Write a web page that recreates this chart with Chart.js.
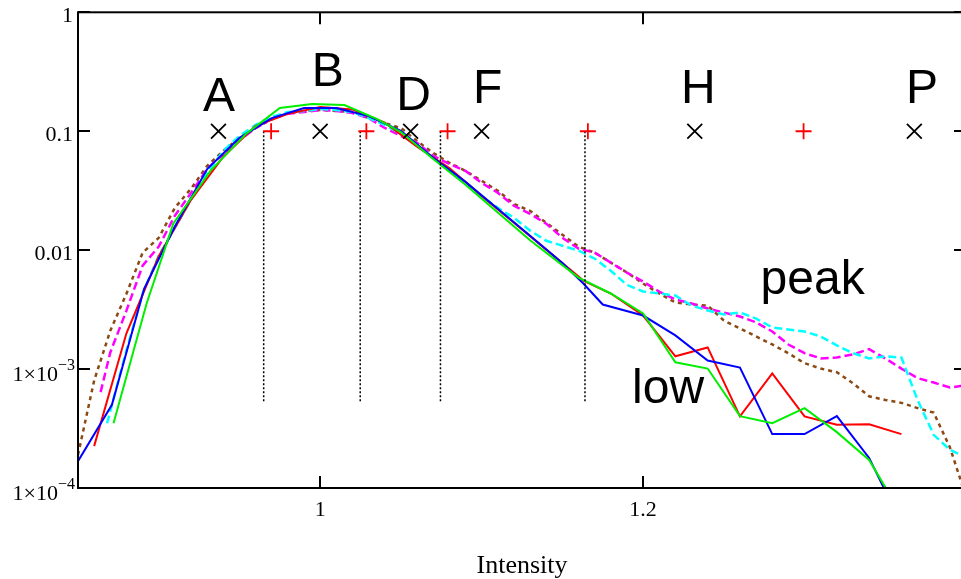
<!DOCTYPE html>
<html>
<head>
<meta charset="utf-8">
<script src="https://cdn.jsdelivr.net/npm/chart.js@4.4.1/dist/chart.umd.min.js"></script>
<style>
  html, body { margin: 0; padding: 0; background: #fff; overflow: hidden; }
  canvas { display: block; }
</style>
</head>
<body>
<canvas id="intensityChart" width="980" height="579"></canvas>
<script>
// peak curves (dashed), sampled every 0.01
const brownX = [0.85, 0.86, 0.87, 0.88, 0.89, 0.90, 0.91, 0.92, 0.93, 0.94, 0.95, 0.96, 0.97, 0.98, 0.99,
  1.00, 1.01, 1.02, 1.03, 1.04, 1.05, 1.06, 1.07, 1.08, 1.09, 1.10, 1.11, 1.12, 1.13, 1.14, 1.15, 1.16,
  1.17, 1.18, 1.19, 1.20, 1.21, 1.22, 1.23, 1.24, 1.25, 1.26, 1.27, 1.28, 1.29, 1.30, 1.31, 1.32, 1.33,
  1.34, 1.35, 1.36, 1.37, 1.38, 1.39, 1.40];
const brownY = [1.9e-4, 8.0e-4, 2.1e-3, 4.3e-3, 9.5e-3, 0.0127, 0.0227, 0.0329, 0.0512, 0.0683, 0.088, 0.1065, 0.126, 0.142, 0.148,
  0.151, 0.148, 0.145, 0.129, 0.117, 0.1065, 0.0828, 0.0657, 0.0542, 0.0464, 0.0383, 0.0316, 0.0245, 0.0214, 0.017, 0.0135, 0.0107,
  0.00953, 0.00786, 0.00648, 0.00524, 0.00432, 0.00363, 0.00349, 0.00342, 0.00256, 0.0022, 0.00188, 0.00161, 0.00136, 0.00112, 0.00101, 0.00094, 0.00076,
  0.00059, 0.00055, 0.00052, 0.00047, 0.00043, 0.00022, 0.000085];

const magentaX = [0.864, 0.87, 0.88, 0.89, 0.90, 0.91, 0.92, 0.93, 0.94, 0.95, 0.96, 0.97, 0.98, 0.99,
  1.00, 1.01, 1.02, 1.03, 1.04, 1.05, 1.06, 1.07, 1.08, 1.09, 1.10, 1.11, 1.12, 1.13, 1.14, 1.15, 1.16,
  1.17, 1.18, 1.19, 1.20, 1.21, 1.22, 1.23, 1.24, 1.25, 1.26, 1.27, 1.28, 1.29, 1.30, 1.31, 1.32, 1.33,
  1.34, 1.35, 1.36, 1.37, 1.38, 1.39, 1.40];
const magentaY = [6.4e-4, 1.38e-3, 3.1e-3, 7.4e-3, 0.0107, 0.0195, 0.0303, 0.0482, 0.0645, 0.0845, 0.106, 0.127, 0.140, 0.145,
  0.151, 0.148, 0.142, 0.129, 0.1065, 0.0912, 0.0797, 0.062, 0.0531, 0.0464, 0.0368, 0.0304, 0.0236, 0.0202, 0.0167, 0.0127, 0.0103,
  0.00953, 0.00786, 0.00648, 0.00544, 0.00449, 0.00385, 0.00356, 0.00323, 0.00299, 0.00277, 0.00247, 0.00207, 0.00161, 0.00136, 0.00123, 0.00125, 0.00133,
  0.00147, 0.00123, 0.00101, 0.00084, 0.00077, 0.0007, 0.00073];

const cyanX = [0.868, 0.88, 0.89, 0.90, 0.91, 0.92, 0.93, 0.94, 0.95, 0.96, 0.97, 0.98, 0.99,
  1.00, 1.01, 1.02, 1.03, 1.04, 1.05, 1.06, 1.07, 1.08, 1.09, 1.10, 1.11, 1.12, 1.13, 1.14, 1.15, 1.16,
  1.17, 1.18, 1.19, 1.20, 1.21, 1.22, 1.23, 1.24, 1.25, 1.26, 1.27, 1.28, 1.29, 1.30, 1.31, 1.32, 1.33,
  1.34, 1.35, 1.36, 1.37, 1.38, 1.39, 1.40];
const cyanY = [3.5e-4, 1.44e-3, 4.3e-3, 9.0e-3, 0.0154, 0.0265, 0.0447, 0.0683, 0.0912, 0.113, 0.132, 0.145, 0.148,
  0.154, 0.151, 0.145, 0.129, 0.113, 0.0948, 0.0752, 0.0597, 0.0464, 0.0361, 0.0281, 0.0227, 0.0187, 0.0146, 0.012, 0.0109, 0.0099,
  0.0085, 0.0067, 0.0051, 0.00449, 0.00432, 0.00415, 0.00342, 0.00311, 0.00288, 0.00299, 0.00266, 0.00224, 0.00215, 0.00207, 0.00188, 0.00158, 0.00136,
  0.00123, 0.00128, 0.00125, 0.00055, 0.00028, 0.00021, 0.00018];

// low curves (solid)
const redX = [0.86, 0.88, 0.90, 0.92, 0.94, 0.96, 0.98, 1.00, 1.02, 1.04, 1.06, 1.08, 1.10, 1.12, 1.14,
  1.163, 1.18, 1.20, 1.22, 1.24, 1.26, 1.28, 1.30, 1.32, 1.34, 1.36];
const redY = [2.25e-4, 2.0e-3, 8.9e-3, 0.0265, 0.061, 0.111, 0.140, 0.160, 0.152, 0.118, 0.074, 0.049, 0.0286, 0.017, 0.0101,
  0.00555, 0.00432, 0.00282, 0.00128, 0.00152, 0.0004, 0.00092, 0.0004, 0.00034, 0.000344, 0.000284];

const blueX = [0.85, 0.871, 0.891, 0.91, 0.93, 0.95, 0.97, 0.99, 1.01, 1.03, 1.05, 1.07, 1.09, 1.11, 1.13, 1.15,
  1.163, 1.175, 1.20, 1.22, 1.24, 1.26, 1.28, 1.30, 1.32, 1.34, 1.36];
const blueY = [1.68e-4, 5.0e-4, 4.75e-3, 0.0158, 0.048, 0.088, 0.129, 0.157, 0.157, 0.134, 0.1005, 0.0597, 0.0375, 0.0223, 0.0132, 0.0078,
  0.00524, 0.00349, 0.00282, 0.00192, 0.00118, 0.00103, 0.000284, 0.000284, 0.000402, 0.000179, 0.00005];

const greenX = [0.872, 0.8925, 0.909, 0.932, 0.954, 0.975, 0.995, 1.015, 1.035, 1.05, 1.07, 1.09, 1.11, 1.13,
  1.16, 1.18, 1.20, 1.22, 1.24, 1.26, 1.28, 1.30, 1.32, 1.34, 1.36];
const greenY = [3.5e-4, 3.56e-3, 0.0167, 0.0464, 0.095, 0.157, 0.169, 0.166, 0.127, 0.0985, 0.0585, 0.0355, 0.0207, 0.0121,
  0.00588, 0.00432, 0.00294, 0.00114, 0.00101, 0.000402, 0.000351, 0.000469, 0.000295, 0.000172, 0.00006];

// level markers at 0.1 and the class boundaries between them
const levelX = [0.937, 1.0, 1.056, 1.1, 1.232, 1.368];
const boundX = [0.9696, 1.0286, 1.0789, 1.1658, 1.2994];
const markerY = 0.1;
const dividerX = [0.965, 1.0248, 1.0745, 1.164];
const dividerSpan = [0.1, 5.2e-4];

// annotation text, placed in data coordinates
const letterText = ['A', 'B', 'D', 'F', 'H', 'P'];
const letterX = [0.9373, 1.0047, 1.0578, 1.1037, 1.2342, 1.3727];
const letterY = [0.148, 0.2395, 0.1508, 0.1725, 0.1725, 0.1725];
const groupText = ['low', 'peak'];
const groupX = [1.2155, 1.305];
const groupY = [5.16e-4, 4.32e-3];

// axis ticks
const xTicks = [1, 1.2];
const yTicks = [1, 0.1, 0.01, 1e-3, 1e-4];
const yTickBase = ['1', '0.1', '0.01', '1\u00d710', '1\u00d710'];
const yTickExp = ['', '', '', '\u22123', '\u22124'];

const SERIF = "'Liberation Serif', 'Times New Roman', serif";
const SANS = "'Liberation Sans', Arial, sans-serif";

function pts(xs, ys) {
    return xs.map((x, i) => ({ x: x, y: ys[i] }));
}

function curve(xs, ys, color, dash, width) {
    return {
        data: pts(xs, ys),
        borderColor: color,
        borderWidth: width,
        borderDash: dash,
        pointRadius: 0,
        tension: 0,
        fill: false
    };
}

// box with inward tick marks, y labels with exponents, and text annotations
const framePlugin = {
    id: 'frame',
    afterDatasetsDraw(chart) {
        const { ctx, chartArea: a, scales: { x, y } } = chart;
        ctx.save();
        ctx.strokeStyle = '#000';
        ctx.lineWidth = 2;
        ctx.strokeRect(a.left, a.top, a.right - a.left, a.bottom - a.top);

        ctx.beginPath();
        x.ticks.forEach(t => {
            const px = Math.round(x.getPixelForValue(t.value));
            ctx.moveTo(px, a.bottom); ctx.lineTo(px, a.bottom - 12);
            ctx.moveTo(px, a.top); ctx.lineTo(px, a.top + 12);
        });
        y.ticks.forEach(t => {
            const py = Math.round(y.getPixelForValue(t.value));
            ctx.moveTo(a.left, py); ctx.lineTo(a.left + 12, py);
            ctx.moveTo(a.right, py); ctx.lineTo(a.right - 12, py);
        });
        ctx.stroke();

        ctx.fillStyle = '#000';
        ctx.textAlign = 'right';
        ctx.textBaseline = 'alphabetic';
        yTicks.forEach((v, i) => {
            const py = y.getPixelForValue(v);
            if (yTickExp[i]) {
                ctx.font = '16px ' + SERIF;
                const w = ctx.measureText(yTickExp[i]).width;
                ctx.fillText(yTickExp[i], 75, py + 1);
                ctx.font = '22px ' + SERIF;
                ctx.fillText(yTickBase[i], 75 - w, py + 12);
            } else {
                ctx.font = '22px ' + SERIF;
                ctx.fillText(yTickBase[i], 73, py + 9.5);
            }
        });

        ctx.textAlign = 'center';
        ctx.font = '48px ' + SANS;
        letterText.forEach((s, i) => {
            ctx.fillText(s, x.getPixelForValue(letterX[i]), y.getPixelForValue(letterY[i]));
        });
        groupText.forEach((s, i) => {
            ctx.fillText(s, x.getPixelForValue(groupX[i]), y.getPixelForValue(groupY[i]));
        });
        ctx.restore();
    }
};

const datasets = [
    {
        data: levelX.map(v => ({ x: v, y: markerY })),
        showLine: false,
        pointStyle: 'crossRot',
        pointRadius: 10.5,
        pointBorderWidth: 1.8,
        pointBorderColor: '#000',
        borderColor: '#000'
    },
    {
        data: boundX.map(v => ({ x: v, y: markerY })),
        showLine: false,
        pointStyle: 'cross',
        pointRadius: 8,
        pointBorderWidth: 1.8,
        pointBorderColor: '#ff0000',
        borderColor: '#ff0000'
    }
];

dividerX.forEach(v => {
    datasets.push({
        data: dividerSpan.map(s => ({ x: v, y: s })),
        borderColor: '#000',
        borderWidth: 1.5,
        borderDash: [2, 2],
        pointRadius: 0
    });
});

datasets.push(
    curve(greenX, greenY, '#00ee00', [], 2),
    curve(blueX, blueY, '#0000ff', [], 2),
    curve(redX, redY, '#ff0000', [], 2),
    curve(cyanX, cyanY, '#00ffff', [8, 4], 2.5),
    curve(magentaX, magentaY, '#ff00ff', [8, 4], 2.5),
    curve(brownX, brownY, '#8b4a14', [4, 4], 2.5)
);

new Chart(document.getElementById('intensityChart'), {
    type: 'line',
    data: { datasets: datasets },
    plugins: [framePlugin],
    options: {
        responsive: false,
        devicePixelRatio: 1,
        animation: false,
        events: [],
        layout: { padding: { left: 0, top: 11, right: 14, bottom: 0 } },
        plugins: {
            legend: { display: false },
            tooltip: { enabled: false }
        },
        scales: {
            x: {
                type: 'linear',
                min: 0.85,
                max: 1.4,
                afterBuildTicks: function(scale) {
                    scale.ticks = xTicks.map(v => ({ value: v }));
                },
                afterFit: function(scale) {
                    scale.height = 91;
                },
                ticks: {
                    color: '#000',
                    padding: 9,
                    font: { family: SERIF, size: 22 },
                    callback: function(value) {
                        return String(value);
                    }
                },
                grid: { display: false, drawTicks: false },
                border: { display: false },
                title: {
                    display: true,
                    text: 'Intensity',
                    color: '#000',
                    padding: 0,
                    font: { family: SERIF, size: 26, lineHeight: 1 }
                }
            },
            y: {
                type: 'logarithmic',
                min: 1e-4,
                max: 1,
                afterBuildTicks: function(scale) {
                    scale.ticks = yTicks.map(v => ({ value: v }));
                },
                afterFit: function(scale) {
                    scale.width = 78;
                },
                ticks: { display: false },
                grid: { display: false, drawTicks: false },
                border: { display: false }
            }
        }
    }
});
</script>
</body>
</html>
